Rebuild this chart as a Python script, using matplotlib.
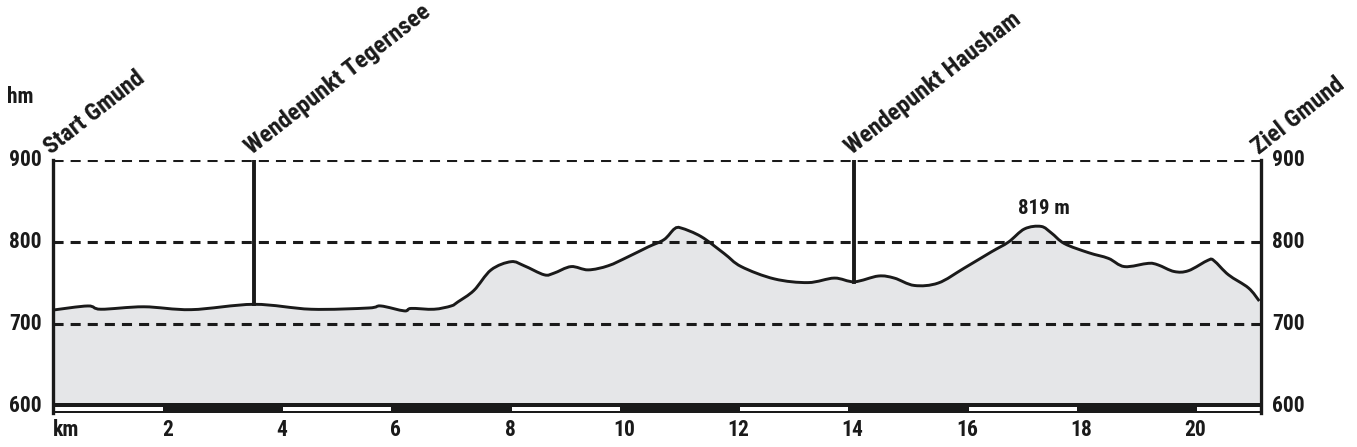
import matplotlib.pyplot as plt
from matplotlib.patches import Rectangle, PathPatch
from matplotlib.path import Path

# elevation profile (km, m)
km = [0.0, 0.61, 0.84, 1.59, 2.42, 3.52, 4.52, 5.52, 5.74, 6.15, 6.27, 6.67, 6.97,
      7.09, 7.37, 7.67, 8.02, 8.25, 8.60, 8.77, 9.07, 9.37, 9.72, 10.07, 10.42,
      10.70, 10.88, 11.00, 11.35, 11.75, 12.05, 12.63, 13.22, 13.68, 14.03, 14.45,
      14.73, 15.08, 15.50, 15.95, 16.43, 16.73, 17.01, 17.30, 17.48, 17.71, 18.13,
      18.48, 18.76, 19.18, 19.35, 19.63, 19.88, 20.23, 20.33, 20.58, 20.93, 21.12]
elev = [717, 722, 718, 721, 717.5, 724, 718, 719.5, 722, 716, 719, 718, 722,
        727, 741, 766, 776, 771, 760, 762, 770, 766, 771, 782, 794,
        803, 816, 817, 806.5, 786, 770, 755, 750.5, 756, 751.5, 758.5,
        756, 747, 750, 768, 788, 800, 816, 819, 811, 798, 787,
        780, 770, 774, 772, 764, 765, 778, 777, 760, 744, 728]

markers = [(0.0, "Start Gmund"), (3.52, "Wendepunkt Tegernsee"),
           (14.03, "Wendepunkt Hausham"), (21.15, "Ziel Gmund")]
turn_points = [(3.52, 724), (14.03, 751.5)]
peak = (17.30, 819, "819 m")
yticks = [600, 700, 800, 900]
xticks = [2, 4, 6, 8, 10, 12, 14, 16, 18, 20]
x_end = 21.15
y_bottom = 591.1
bar_top = 603.3

INK = "#1a1a1a"
font = dict(family=["Roboto Condensed", "DejaVu Sans"], weight="bold", color=INK)

W, H = 1357, 447
fig = plt.figure(figsize=(W / 100, H / 100), dpi=100)
ax = fig.add_axes([53 / W, 1 - 413.3 / H, (1261 - 53) / W, (413.3 - 160) / H])
ax.set_xlim(0, x_end)
ax.set_ylim(y_bottom, 900)
ax.axis("off")

# smooth curve through the points (Catmull-Rom as cubic Bezier)
pts = list(zip(km, elev))
verts = [pts[0]]
codes = [Path.MOVETO]
for i in range(len(pts) - 1):
    p0 = pts[max(i - 1, 0)]
    p1 = pts[i]
    p2 = pts[i + 1]
    p3 = pts[min(i + 2, len(pts) - 1)]
    c1 = (p1[0] + (p2[0] - p0[0]) / 6, p1[1] + (p2[1] - p0[1]) / 6)
    c2 = (p2[0] - (p3[0] - p1[0]) / 6, p2[1] - (p3[1] - p1[1]) / 6)
    verts += [c1, c2, p2]
    codes += [Path.CURVE4] * 3

fill_verts = verts + [(km[-1], bar_top), (km[0], bar_top), pts[0]]
fill_codes = codes + [Path.LINETO, Path.LINETO, Path.CLOSEPOLY]
ax.add_patch(PathPatch(Path(fill_verts, fill_codes), facecolor="#e5e6e8",
                       edgecolor="none", zorder=1))
ax.add_patch(PathPatch(Path(verts, codes), facecolor="none", edgecolor=INK,
                       lw=2.1, zorder=4))

for y in [700, 800, 900]:
    ax.plot([0, x_end], [y, y], color=INK, lw=2.2, dashes=(3.3, 2.3), zorder=2)

# frame sides
ax.plot([0, 0], [y_bottom, 900], color=INK, lw=2.4, zorder=8, clip_on=False)
ax.plot([x_end, x_end], [y_bottom, 900], color=INK, lw=2.4, zorder=8, clip_on=False)

for x, y in turn_points:
    ax.plot([x, x], [y, 900], color=INK, lw=2.8, zorder=5)

# km bar
ax.add_patch(Rectangle((0, y_bottom), x_end, bar_top - y_bottom, color=INK, zorder=6, lw=0))
for start in range(0, 22, 4):
    end = min(start + 1.92, x_end)
    ax.add_patch(Rectangle((start + 0.03, 593.9), end - start - 0.03, 4.5,
                           color="white", zorder=7, lw=0))

fs = 15.5
for y in yticks:
    ax.text(-0.2, y, str(y), ha="right", va="center", fontsize=fs, **font)
    ax.text(x_end + 0.2, y, str(y), ha="left", va="center", fontsize=fs, **font)

for x in xticks:
    ax.text(x, 571, str(x), ha="center", va="center", fontsize=fs, **font)
ax.text(0, 571, "km", ha="left", va="center", fontsize=fs, **font)
fig.text(7 / W, 1 - 97 / H, "hm", ha="left", va="center", fontsize=fs, **font)

for x, label in markers:
    ax.text(x - 0.04, 906, label, ha="left", va="baseline", rotation=38,
            rotation_mode="anchor", fontsize=17.5, **font)

ax.text(peak[0] + 0.05, peak[1] + 10, peak[2], ha="center", va="bottom",
        fontsize=15, **font)

fig.savefig("out.png", dpi=100)
